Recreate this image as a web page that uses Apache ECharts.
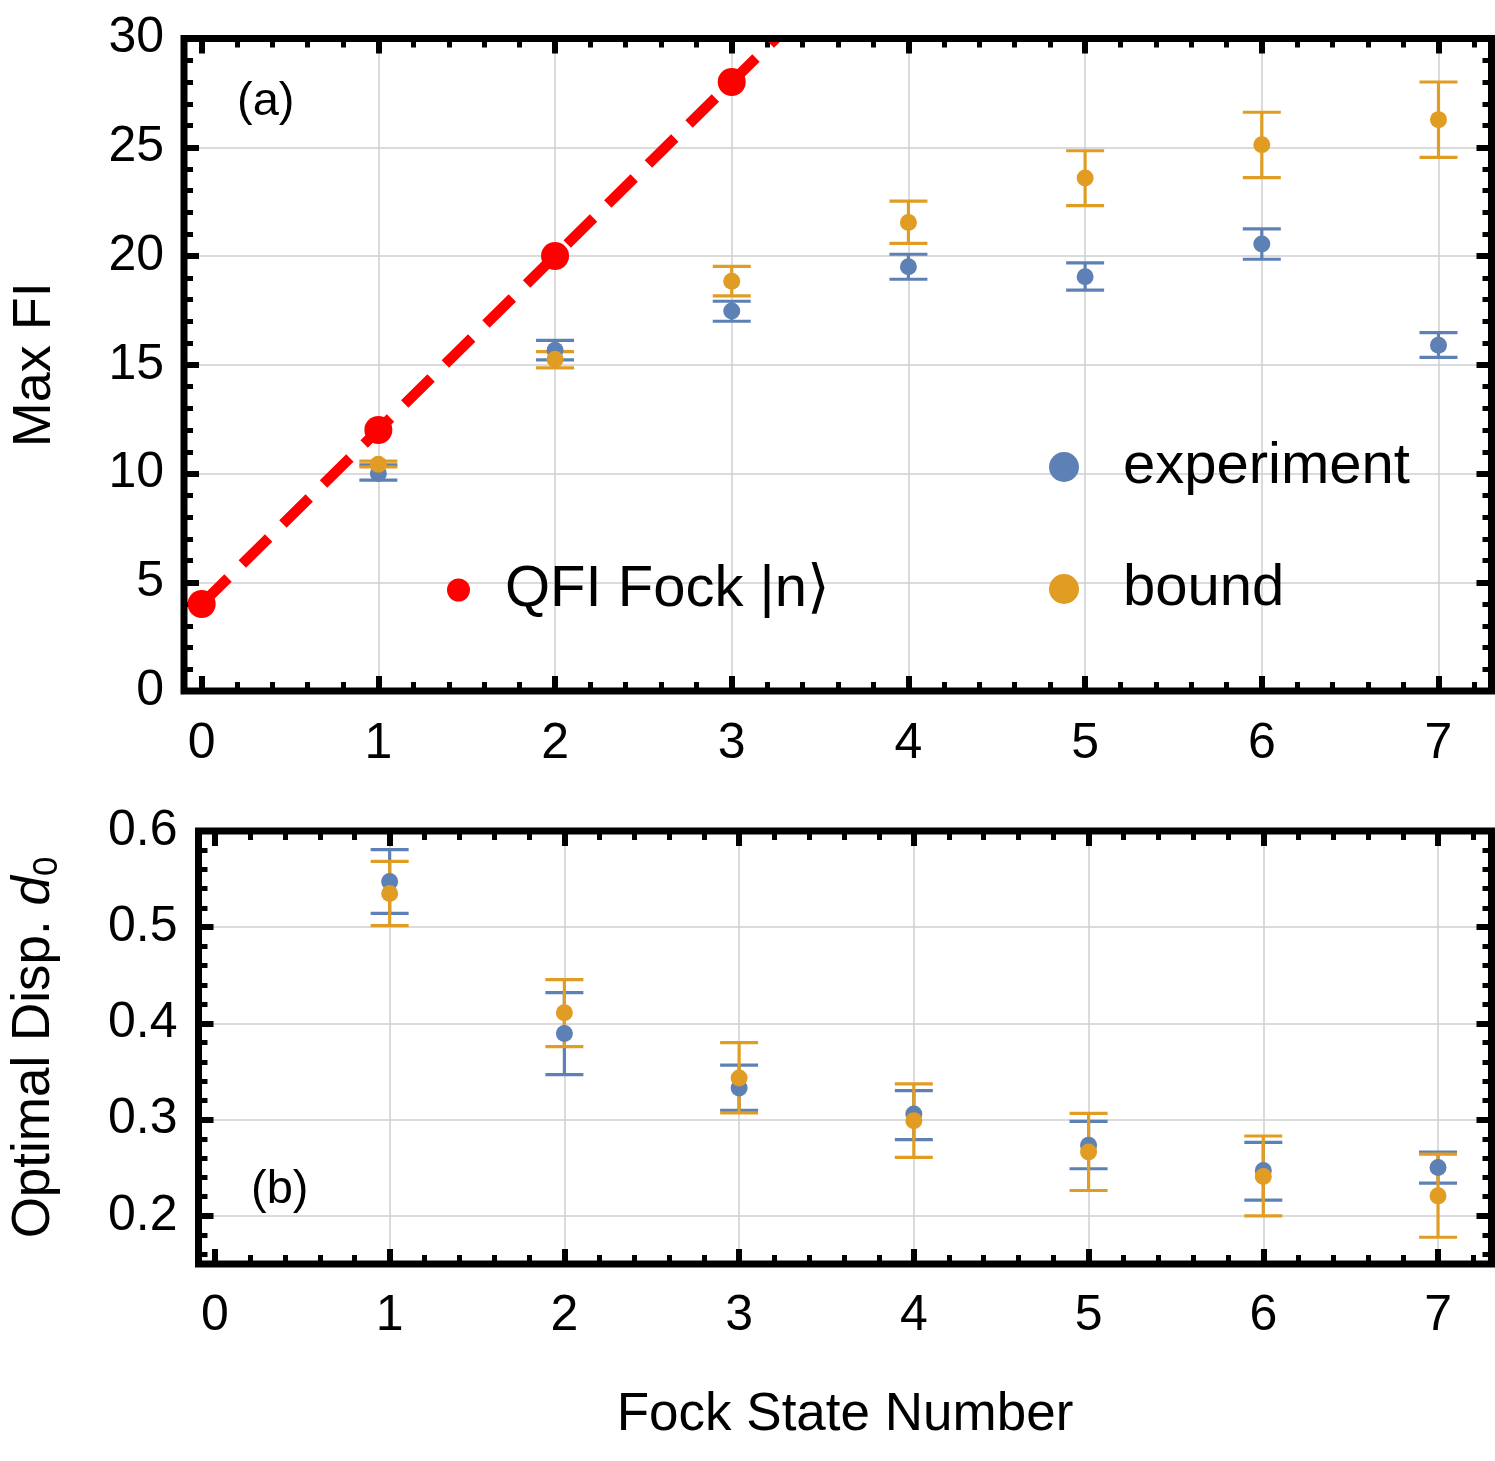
<!DOCTYPE html>
<html>
<head>
<meta charset="utf-8">
<title>Max FI and optimal displacement vs Fock state</title>
<script src="https://cdn.jsdelivr.net/npm/echarts@6/dist/echarts.min.js"></script>
<style>
  html, body { margin: 0; padding: 0; background: #fff; }
  #chart { width: 1495px; height: 1461px; }
</style>
</head>
<body>
<div id="chart"></div>
<script>
// Fock state numbers for the measured points
const fockN = [1, 2, 3, 4, 5, 6, 7]

// QFI of Fock state |n>
const qfiN = [0, 1, 2, 3]
const qfiFock = [4, 12, 20, 28]
// dashed guide line through the QFI points, up to the top of the frame
const qfiLineN = [0, 3.25]
const qfiLineVal = [4, 30]

// panel (a): max Fisher information
const expFI = [10.0, 15.67, 17.47, 19.51, 19.05, 20.55, 15.9]
const expFILow = [9.7, 15.22, 17.0, 18.93, 18.43, 19.85, 15.34]
const expFIHigh = [10.4, 16.12, 17.92, 20.08, 19.68, 21.25, 16.48]
const boundFI = [10.42, 15.25, 18.84, 21.54, 23.59, 25.11, 26.27]
const boundFILow = [10.3, 14.86, 18.17, 20.58, 22.32, 23.6, 24.53]
const boundFIHigh = [10.57, 15.6, 19.52, 22.52, 24.84, 26.61, 28.0]

// panel (b): optimal displacement d0
const expD = [0.5476, 0.3896, 0.333, 0.3059, 0.2733, 0.2472, 0.2503]
const expDLow = [0.5143, 0.3468, 0.3097, 0.2792, 0.249, 0.2163, 0.234]
const expDHigh = [0.5806, 0.432, 0.3567, 0.3302, 0.2983, 0.2764, 0.2663]
const boundD = [0.5351, 0.4111, 0.3434, 0.299, 0.2663, 0.241, 0.2208]
const boundDLow = [0.5017, 0.376, 0.307, 0.2608, 0.2264, 0.2, 0.1778]
const boundDHigh = [0.5685, 0.4456, 0.38, 0.3372, 0.3066, 0.283, 0.2642]

// tick labels
const xTicks = [0, 1, 2, 3, 4, 5, 6, 7]
const xGridLines = [1, 2, 3, 4, 5, 6, 7]
const fiTicks = [0, 5, 10, 15, 20, 25, 30]
const fiGridLines = [5, 10, 15, 20, 25]
const dTicks = [0.2, 0.3, 0.4, 0.5, 0.6]
const dGridLines = [0.2, 0.3, 0.4, 0.5]

const FONT = "'Liberation Sans', Arial, sans-serif"
const BLUE = "#5E81B5"
const ORANGE = "#E19C24"
const RED = "#FF0000"

function minorTicks(from, to, step, majors) {
    let out = []
    for (let v = from; v <= to + 1e-9; v += step) {
        let r = Math.round(v * 1000) / 1000
        if (!majors.some(m => Math.abs(m - r) < 1e-6)) out.push(r)
    }
    return out
}
const xMinor = minorTicks(0.2, 7.2, 0.2, xTicks)
const fiMinor = minorTicks(1, 29, 1, fiTicks)
const dMinor = minorTicks(0.16, 0.58, 0.02, dTicks)

// one set of frame axes: labelled side (major + minor), mirrored side, grid lines
function frameAxes(kind, gridIndex, min, max, major, minor, lines, extra) {
    const sides = kind === "x" ? ["bottom", "top"] : ["left", "right"]
    const base = {
        type: "value",
        gridIndex: gridIndex,
        min: min,
        max: max,
        axisLine: { show: false, onZero: false },
        splitLine: { show: false },
        axisLabel: { show: false },
        axisTick: { show: false },
    }
    const ticks = (values, len, w) => ({
        show: true,
        inside: true,
        length: len,
        customValues: values,
        lineStyle: { color: "#000", width: w },
    })
    return [
        Object.assign({}, base, {
            position: sides[0],
            axisTick: ticks(major, 15, 6),
            axisLabel: Object.assign({
                show: true,
                customValues: major,
                color: "#000",
                fontSize: 50,
                fontFamily: FONT,
            }, extra.label),
        }, extra.name),
        Object.assign({}, base, { position: sides[0], axisTick: ticks(minor, 9, 5) }),
        Object.assign({}, base, { position: sides[1], axisTick: ticks(major, 15, 6) }),
        Object.assign({}, base, { position: sides[1], axisTick: ticks(minor, 9, 5) }),
        Object.assign({}, base, {
            position: sides[0],
            axisTick: { show: false, customValues: lines },
            splitLine: { show: true, lineStyle: { color: "#cfcfcf", width: 1.5 } },
        }),
    ]
}

function errorBars(color) {
    return function (params, api) {
        const x = api.value(0)
        const lo = api.coord([x, api.value(1)])
        const hi = api.coord([x, api.value(2)])
        const half = 19
        const style = { stroke: color, lineWidth: 3.2 }
        return {
            type: "group",
            children: [
                { type: "line", shape: { x1: lo[0], y1: lo[1], x2: hi[0], y2: hi[1] }, style: style },
                { type: "line", shape: { x1: lo[0] - half, y1: lo[1], x2: lo[0] + half, y2: lo[1] }, style: style },
                { type: "line", shape: { x1: hi[0] - half, y1: hi[1], x2: hi[0] + half, y2: hi[1] }, style: style },
            ],
        }
    }
}

const pairs = (xs, ys) => xs.map((x, i) => [x, ys[i]])
const bars = (lo, hi) => fockN.map((n, i) => [n, lo[i], hi[i]])

const chart = echarts.init(document.getElementById("chart"))

const xAxes = [].concat(
    frameAxes("x", 0, -0.1, 7.3, xTicks, xMinor, xGridLines, { label: { margin: 28 }, name: {} }),
    frameAxes("x", 1, -0.094, 7.306, xTicks, xMinor, xGridLines, {
        label: { margin: 27 },
        name: {
            name: "Fock State Number",
            nameLocation: "middle",
            nameGap: 125,
            nameTextStyle: { fontSize: 53, color: "#000", fontFamily: FONT },
        },
    })
)
const yAxes = [].concat(
    frameAxes("y", 0, 0, 30, fiTicks, fiMinor, fiGridLines, {
        label: { margin: 20 },
        name: {
            name: "Max FI",
            nameLocation: "middle",
            nameRotate: 90,
            nameGap: 122,
            nameTextStyle: { fontSize: 54, color: "#000", fontFamily: FONT },
        },
    }),
    frameAxes("y", 1, 0.15, 0.6, dTicks, dMinor, dGridLines, {
        label: { margin: 21, formatter: v => v.toFixed(1) },
        name: {
            name: "{t|Optimal Disp. }{i|d}{s|0}",
            nameLocation: "middle",
            nameRotate: 90,
            nameGap: 134,
            nameTextStyle: {
                color: "#000",
                fontFamily: FONT,
                rich: {
                    t: { fontSize: 53, fontFamily: FONT, color: "#000", lineHeight: 60 },
                    i: { fontSize: 53, fontFamily: FONT, color: "#000", fontStyle: "italic", lineHeight: 60 },
                    s: { fontSize: 35, fontFamily: FONT, color: "#000", verticalAlign: "bottom", lineHeight: 44 },
                },
            },
        },
    })
)

const option = {
    animation: false,
    backgroundColor: "#fff",
    textStyle: { fontFamily: FONT },
    title: [
        { text: "(a)", left: 237, top: 79, padding: 0, textStyle: { fontSize: 47, fontWeight: "normal", color: "#000", fontFamily: FONT } },
        { text: "(b)", left: 251, top: 1167, padding: 0, textStyle: { fontSize: 47, fontWeight: "normal", color: "#000", fontFamily: FONT } },
    ],
    legend: [
        {
            data: [{ name: "QFI Fock |n\u27E9", icon: "circle" }],
            left: 447,
            top: 560,
            padding: 0,
            itemWidth: 23,
            itemHeight: 23,
            textStyle: { fontSize: 58, color: "#000", fontFamily: FONT, lineHeight: 60, padding: [0, 0, 0, 30] },
        },
        {
            data: [
                { name: "experiment", icon: "circle" },
                { name: "bound", icon: "circle" },
            ],
            orient: "vertical",
            left: 1049,
            top: 437,
            padding: 0,
            itemGap: 62,
            itemWidth: 30,
            itemHeight: 30,
            textStyle: { fontSize: 58, color: "#000", fontFamily: FONT, lineHeight: 60, padding: [0, 0, 0, 39] },
        },
    ],
    grid: [
        { left: 180.5, top: 38.5, width: 1311, height: 652.5, show: true, borderColor: "#000", borderWidth: 7, backgroundColor: "transparent", z: 5 },
        { left: 196.5, top: 831, width: 1295, height: 433, show: true, borderColor: "#000", borderWidth: 7, backgroundColor: "transparent", z: 5 },
    ],
    xAxis: xAxes,
    yAxis: yAxes,
    series: [
        // panel (a)
        {
            name: "QFI line",
            type: "line",
            xAxisIndex: 0,
            yAxisIndex: 0,
            data: pairs(qfiLineN, qfiLineVal),
            showSymbol: false,
            clip: true,
            lineStyle: { color: RED, width: 10.5, type: [37, 20], cap: "butt" },
            z: 2,
        },
        {
            name: "experiment err",
            type: "custom",
            xAxisIndex: 0,
            yAxisIndex: 0,
            data: bars(expFILow, expFIHigh),
            encode: { x: 0, y: [1, 2] },
            renderItem: errorBars(BLUE),
            z: 3,
        },
        {
            name: "bound err",
            type: "custom",
            xAxisIndex: 0,
            yAxisIndex: 0,
            data: bars(boundFILow, boundFIHigh),
            encode: { x: 0, y: [1, 2] },
            renderItem: errorBars(ORANGE),
            z: 3,
        },
        {
            name: "experiment",
            type: "scatter",
            xAxisIndex: 0,
            yAxisIndex: 0,
            data: pairs(fockN, expFI),
            symbolSize: 17,
            itemStyle: { color: BLUE, opacity: 1 },
            z: 4,
        },
        {
            name: "bound",
            type: "scatter",
            xAxisIndex: 0,
            yAxisIndex: 0,
            data: pairs(fockN, boundFI),
            symbolSize: 17,
            itemStyle: { color: ORANGE, opacity: 1 },
            z: 4,
        },
        {
            name: "QFI Fock |n\u27E9",
            type: "scatter",
            xAxisIndex: 0,
            yAxisIndex: 0,
            data: pairs(qfiN, qfiFock),
            symbolSize: 28,
            itemStyle: { color: RED, opacity: 1 },
            z: 4,
        },
        // panel (b)
        {
            name: "experiment err",
            type: "custom",
            xAxisIndex: 5,
            yAxisIndex: 5,
            data: bars(expDLow, expDHigh),
            encode: { x: 0, y: [1, 2] },
            renderItem: errorBars(BLUE),
            z: 3,
        },
        {
            name: "bound err",
            type: "custom",
            xAxisIndex: 5,
            yAxisIndex: 5,
            data: bars(boundDLow, boundDHigh),
            encode: { x: 0, y: [1, 2] },
            renderItem: errorBars(ORANGE),
            z: 3,
        },
        {
            name: "experiment",
            type: "scatter",
            xAxisIndex: 5,
            yAxisIndex: 5,
            data: pairs(fockN, expD),
            symbolSize: 17,
            itemStyle: { color: BLUE, opacity: 1 },
            z: 4,
        },
        {
            name: "bound",
            type: "scatter",
            xAxisIndex: 5,
            yAxisIndex: 5,
            data: pairs(fockN, boundD),
            symbolSize: 17,
            itemStyle: { color: ORANGE, opacity: 1 },
            z: 4,
        },
    ],
}

chart.setOption(option)
</script>
</body>
</html>
